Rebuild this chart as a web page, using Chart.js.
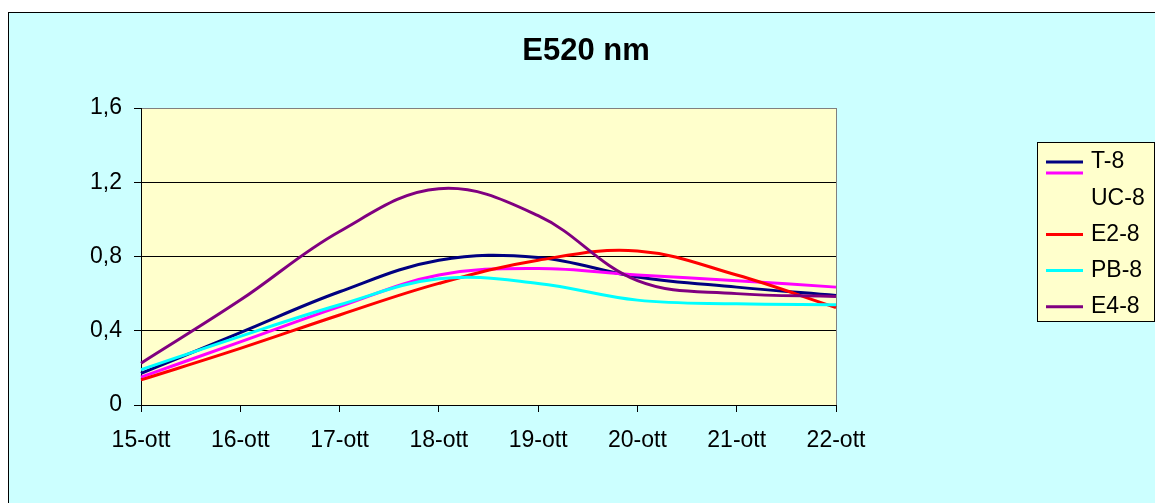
<!DOCTYPE html>
<html>
<head>
<meta charset="utf-8">
<script src="https://cdn.jsdelivr.net/npm/chart.js@4/dist/chart.umd.min.js"></script>
<style>
  html, body { margin: 0; padding: 0; background: #fff; overflow: hidden; }
  #frame {
    position: absolute; left: 8px; top: 12px;
    border-left: 1px solid #000; border-top: 1px solid #000;
    background: #ccffff;
  }
  #chartLine { display: block; }
</style>
</head>
<body>
<div id="frame"><canvas id="chartLine" width="1146" height="490" style="width:1146px;height:490px"></canvas></div>
<script>
const labels = ["15-ott", "16-ott", "17-ott", "18-ott", "19-ott", "20-ott", "21-ott", "22-ott"];

const seriesNames = ["T-8", "UC-8", "E2-8", "PB-8", "E4-8"];
const seriesColors = ["#000080", "#ff00ff", "#ff0000", "#00ffff", "#800080"];

const t8 = [0.17, 0.39, 0.61, 0.78, 0.795, 0.69, 0.635, 0.59];
const uc8 = [0.15, 0.34, 0.53, 0.70, 0.735, 0.70, 0.67, 0.635];
const e28 = [0.135, 0.305, 0.485, 0.655, 0.78, 0.83, 0.70, 0.525];
const pb8 = [0.19, 0.37, 0.54, 0.68, 0.655, 0.565, 0.545, 0.54];
const e48 = [0.225, 0.565, 0.935, 1.165, 1.02, 0.67, 0.60, 0.585];

const yTicks = [0, 0.4, 0.8, 1.2, 1.6];
const yTickLabels = ["0", "0,4", "0,8", "1,2", "1,6"];

const title = "E520 nm";
const font = "'Liberation Sans', Arial, sans-serif";

const seriesValues = [t8, uc8, e28, pb8, e48];

// title + legend drawn by hand so they sit where Excel put them
const excelBits = {
    id: "excelBits",
    beforeDraw(chart) {
        const { ctx, chartArea: a } = chart;
        ctx.save();
        ctx.fillStyle = "#ffffcc";
        ctx.fillRect(a.left, a.top, a.right - a.left, a.bottom - a.top);
        ctx.restore();
    },
    afterDraw(chart) {
        const ctx = chart.ctx;
        ctx.save();
        ctx.fillStyle = "#000";
        ctx.font = "bold 31px " + font;
        ctx.textAlign = "center";
        ctx.textBaseline = "alphabetic";
        ctx.fillText(title, 577, 47);

        // legend
        ctx.fillStyle = "#ffffcc";
        ctx.fillRect(1028, 129, 117, 179);
        ctx.strokeStyle = "#000";
        ctx.lineWidth = 1;
        ctx.strokeRect(1028.5, 129.5, 117, 179);
        ctx.font = "23px " + font;
        ctx.textAlign = "left";
        ctx.textBaseline = "middle";
        const rowY = (i) => 149 + i * 36.2;
        chart.data.datasets.forEach((ds, i) => {
            // UC-8's swatch sits under T-8's in the original legend
            const sy = i === 1 ? rowY(0) + 11 : rowY(i);
            ctx.strokeStyle = ds.borderColor;
            ctx.lineWidth = 3;
            ctx.beginPath();
            ctx.moveTo(1037, sy);
            ctx.lineTo(1074, sy);
            ctx.stroke();
            ctx.fillStyle = "#000";
            ctx.fillText(ds.label, 1082, rowY(i));
        });
        ctx.restore();
    },
};

const data = {
    labels: labels,
    datasets: seriesNames.map((name, i) => ({
        label: name,
        data: seriesValues[i],
        borderColor: seriesColors[i],
        backgroundColor: seriesColors[i],
        borderWidth: 3,
        pointRadius: 0,
        tension: 0.38,
        fill: false,
        order: seriesNames.length - i,
    })),
};

const config = {
    type: "line",
    data: data,
    plugins: [excelBits],
    options: {
        responsive: false,
        animation: false,
        layout: { padding: { left: 0, top: 95, right: 319, bottom: 38 } },
        plugins: {
            legend: { display: false },
            title: { display: false },
            tooltip: { enabled: false },
        },
        scales: {
            x: {
                offset: false,
                afterFit: (s) => { s.height = 60; },
                grid: {
                    drawOnChartArea: true,
                    color: (c) => (c.index === labels.length - 1 ? "#808080" : "rgba(0,0,0,0)"),
                    tickColor: "#000",
                    tickLength: 7,
                },
                border: { color: "#000", width: 1 },
                ticks: {
                    color: "#000",
                    font: { family: font, size: 23 },
                    padding: 15,
                    maxRotation: 0,
                    autoSkip: false,
                },
            },
            y: {
                min: 0,
                max: 1.6,
                afterFit: (s) => { s.width = 132; },
                afterBuildTicks: (s) => { s.ticks = yTicks.map((v) => ({ value: v })); },
                grid: {
                    color: (c) => (c.tick && c.tick.value === 1.6 ? "#808080" : "#000"),
                    tickColor: "#000",
                    tickLength: 7,
                },
                border: { color: "#000", width: 1 },
                ticks: {
                    color: "#000",
                    font: { family: font, size: 23 },
                    padding: 12,
                    callback: (v) => yTickLabels[yTicks.indexOf(v)],
                },
            },
        },
    },
};

new Chart(document.getElementById("chartLine"), config);
</script>
</body>
</html>
